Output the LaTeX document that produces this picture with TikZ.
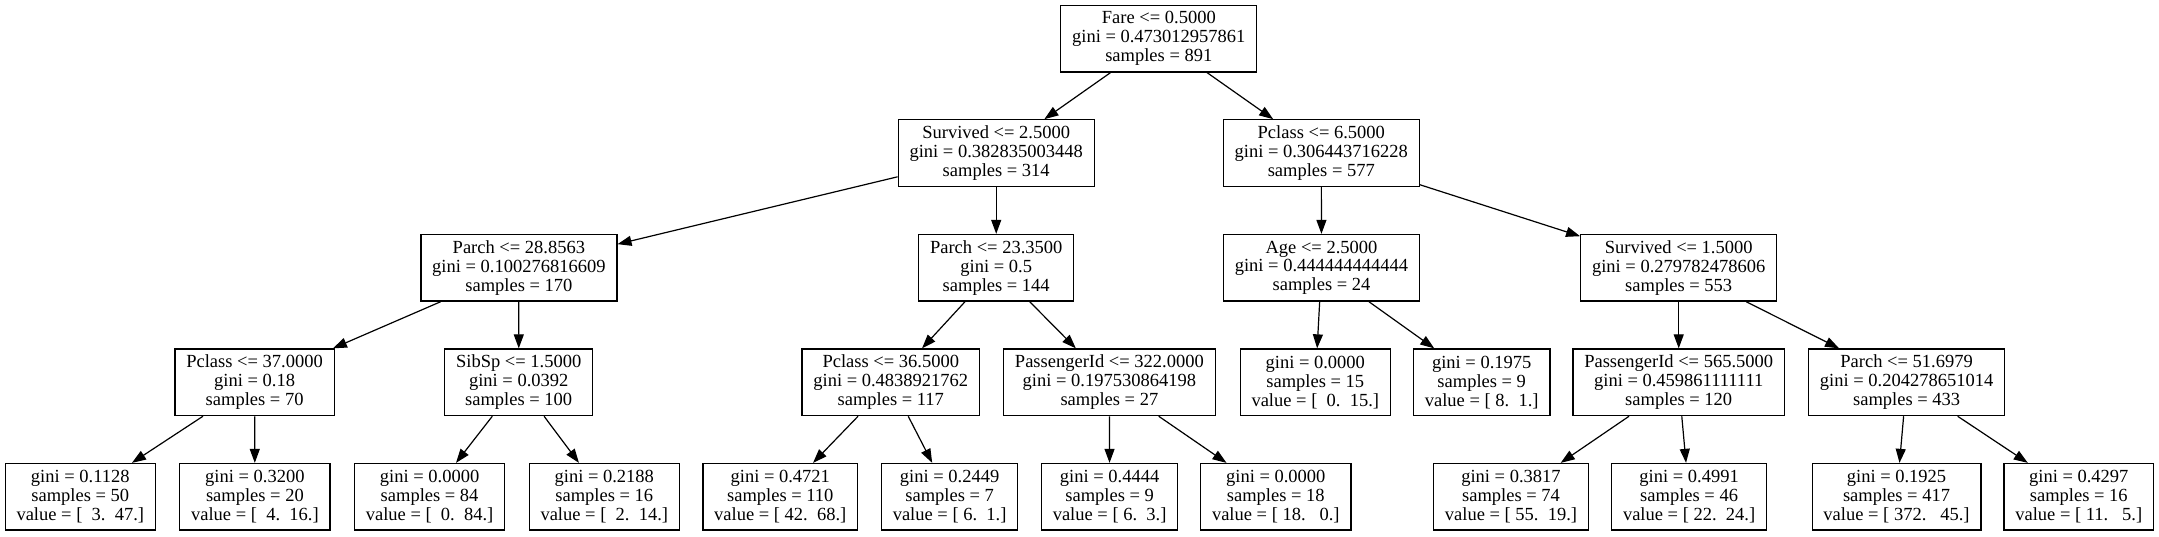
\documentclass[tikz,border=0pt]{standalone}
\usepackage{fontspec}
\setmainfont{Liberation Serif}
\usetikzlibrary{arrows.meta}

\begin{document}
\begin{tikzpicture}[x=1pt, y=-1pt,
  split/.style={draw, line width=1.3pt, minimum height=66.6pt, inner xsep=11.3pt, inner ysep=0pt, align=center, font=\fontsize{18.5}{18.8}\selectfont},
  branch/.style={-{Triangle[length=14pt, width=10pt]}, line width=1.2pt}]
\useasboundingbox (0,0) rectangle (2159,536);

% Root
\node[split] (fare) at (1158.8,38.6) {Fare <= 0.5000\\gini = 0.473012957861\\samples = 891};

% Level 1
\node[split] (survA) at (996.2,153.1) {Survived <= 2.5000\\gini = 0.382835003448\\samples = 314};
\node[split] (pclsA) at (1321.3,153.1) {Pclass <= 6.5000\\gini = 0.306443716228\\samples = 577};

% Level 2
\node[split] (parchA) at (518.9,267.8) {Parch <= 28.8563\\gini = 0.100276816609\\samples = 170};
\node[split] (parchB) at (996.2,267.8) {Parch <= 23.3500\\gini = 0.5\\samples = 144};
\node[split] (age) at (1321.5,267.8) {Age <= 2.5000\\gini = 0.444444444444\\samples = 24};
\node[split] (survB) at (1678.7,267.8) {Survived <= 1.5000\\gini = 0.279782478606\\samples = 553};

% Level 3
\node[split] (pclsB) at (254.6,382.3) {Pclass <= 37.0000\\gini = 0.18\\samples = 70};
\node[split] (sibsp) at (518.7,382.3) {SibSp <= 1.5000\\gini = 0.0392\\samples = 100};
\node[split] (pclsC) at (890.8,382.3) {Pclass <= 36.5000\\gini = 0.4838921762\\samples = 117};
\node[split] (pidA) at (1109.4,382.3) {PassengerId <= 322.0000\\gini = 0.197530864198\\samples = 27};
\node[split] (leafI) at (1315.3,382.3) {gini = 0.0000\\samples = 15\\value = [\ \ 0.\ \ 15.]};
\node[split] (leafJ) at (1481.7,382.3) {gini = 0.1975\\samples = 9\\value = [ 8.\ \ 1.]};
\node[split] (pidB) at (1678.7,382.3) {PassengerId <= 565.5000\\gini = 0.459861111111\\samples = 120};
\node[split] (parchC) at (1906.6,382.3) {Parch <= 51.6979\\gini = 0.204278651014\\samples = 433};

% Level 4
\node[split] (leafA) at (80.3,496.8) {gini = 0.1128\\samples = 50\\value = [\ \ 3.\ \ 47.]};
\node[split] (leafB) at (254.9,496.8) {gini = 0.3200\\samples = 20\\value = [\ \ 4.\ \ 16.]};
\node[split] (leafC) at (429.6,496.8) {gini = 0.0000\\samples = 84\\value = [\ \ 0.\ \ 84.]};
\node[split] (leafD) at (604.3,496.8) {gini = 0.2188\\samples = 16\\value = [\ \ 2.\ \ 14.]};
\node[split] (leafE) at (780.3,496.8) {gini = 0.4721\\samples = 110\\value = [ 42.\ \ 68.]};
\node[split] (leafF) at (949.6,496.8) {gini = 0.2449\\samples = 7\\value = [ 6.\ \ 1.]};
\node[split] (leafG) at (1109.6,496.8) {gini = 0.4444\\samples = 9\\value = [ 6.\ \ 3.]};
\node[split] (leafH) at (1275.8,496.8) {gini = 0.0000\\samples = 18\\value = [ 18.\ \ \ 0.]};
\node[split] (leafK) at (1511,496.8) {gini = 0.3817\\samples = 74\\value = [ 55.\ \ 19.]};
\node[split] (leafL) at (1689.1,496.8) {gini = 0.4991\\samples = 46\\value = [ 22.\ \ 24.]};
\node[split] (leafM) at (1896.5,496.8) {gini = 0.1925\\samples = 417\\value = [ 372.\ \ \ 45.]};
\node[split] (leafN) at (2078.8,496.8) {gini = 0.4297\\samples = 16\\value = [ 11.\ \ \ 5.]};

% Branches
\draw[branch] (fare) -- (survA);
\draw[branch] (fare) -- (pclsA);
\draw[branch] (survA) -- (parchA);
\draw[branch] (survA) -- (parchB);
\draw[branch] (pclsA) -- (age);
\draw[branch] (pclsA) -- (survB);
\draw[branch] (parchA) -- (pclsB);
\draw[branch] (parchA) -- (sibsp);
\draw[branch] (parchB) -- (pclsC);
\draw[branch] (parchB) -- (pidA);
\draw[branch] (age) -- (leafI);
\draw[branch] (age) -- (leafJ);
\draw[branch] (survB) -- (pidB);
\draw[branch] (survB) -- (parchC);
\draw[branch] (pclsB) -- (leafA);
\draw[branch] (pclsB) -- (leafB);
\draw[branch] (sibsp) -- (leafC);
\draw[branch] (sibsp) -- (leafD);
\draw[branch] (pclsC) -- (leafE);
\draw[branch] (pclsC) -- (leafF);
\draw[branch] (pidA) -- (leafG);
\draw[branch] (pidA) -- (leafH);
\draw[branch] (pidB) -- (leafK);
\draw[branch] (pidB) -- (leafL);
\draw[branch] (parchC) -- (leafM);
\draw[branch] (parchC) -- (leafN);
\end{tikzpicture}
\end{document}
